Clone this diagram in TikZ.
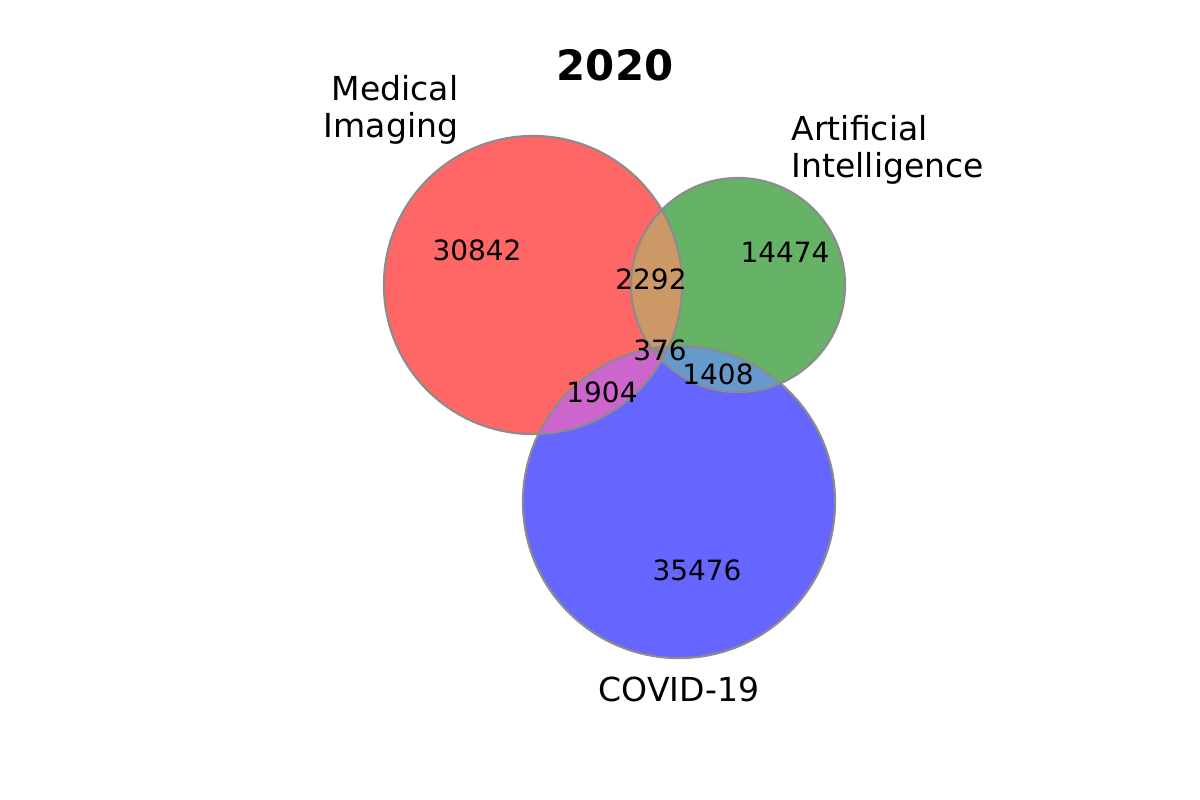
\documentclass[tikz,border=0pt]{standalone}
\usepackage{fontspec}
\setmainfont{DejaVu Sans}

\definecolor{setred}{RGB}{255,102,102}
\definecolor{setgreen}{RGB}{102,178,102}
\definecolor{setblue}{RGB}{102,102,255}
\definecolor{redgreen}{RGB}{204,153,102}
\definecolor{redblue}{RGB}{204,102,204}
\definecolor{greenblue}{RGB}{102,153,204}
\definecolor{allthree}{RGB}{153,128,153}

\tikzset{
	setlabel/.style={font=\fontsize{9.4}{10.6}\selectfont, inner sep=0pt},
	count/.style={font=\fontsize{7.95}{9}\selectfont, inner sep=0pt},
	rim/.style={draw=gray!90, line width=0.6pt}
}

\begin{document}
\begin{tikzpicture}[x=0.01cm, y=-0.01cm]

	\useasboundingbox (0, 0) rectangle (1200, 800);

	% the three sets
	\def\medical{(533, 285) circle (1.49cm)}
	\def\artificial{(738, 285) circle (1.07cm)}
	\def\covid{(679, 502) circle (1.56cm)}

	% single sets
	\fill[setred] \medical;
	\fill[setgreen] \artificial;
	\fill[setblue] \covid;

	% pairs
	\begin{scope}
		\clip \medical;
		\fill[redgreen] \artificial;
		\fill[redblue] \covid;
	\end{scope}
	\begin{scope}
		\clip \artificial;
		\fill[greenblue] \covid;
		\clip \medical;
		\fill[allthree] \covid;
	\end{scope}

	% outlines
	\foreach \set in {\medical, \artificial, \covid} {
		\draw[rim] \set;
	}

	% title and set names
	\node[font=\fontsize{11.9}{13}\selectfont\bfseries, inner sep=0pt] (title) at (615, 65) {2020};
	\node[setlabel, align=right, anchor=east] (medlabel) at (459, 110) {Medical\\Imaging};
	\node[setlabel, align=left, anchor=west] (ailabel) at (791, 150) {Artificial\\Intelligence};
	\node[setlabel] (covlabel) at (679, 689) {COVID-19};

	% region counts
	\foreach \x/\y/\n/\name in {
		477/250/30842/onlymed,
		785/252/14474/onlyai,
		697/570/35476/onlycov,
		651/279/2292/medai,
		602/392/1904/medcov,
		718/374/1408/aicov,
		660/350/376/medaicov
	} {
		\node[count] (\name) at (\x, \y) {\n};
	}
\end{tikzpicture}
\end{document}
